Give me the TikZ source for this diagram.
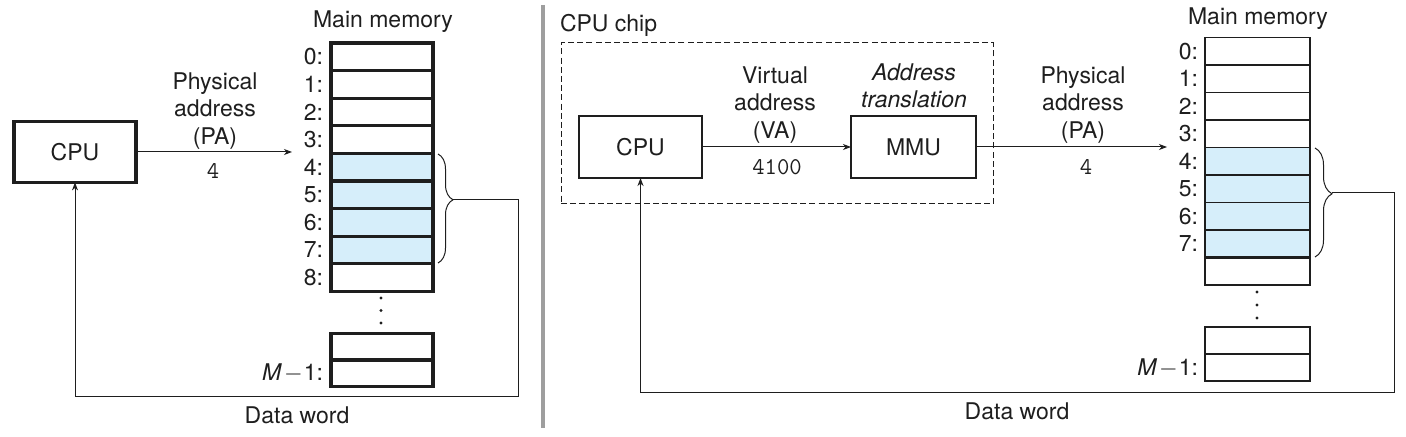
\documentclass[tikz,border=0pt]{standalone}
\usepackage{fontspec}
\setmainfont{TeX Gyre Heros}
\usetikzlibrary{arrows.meta,decorations.pathreplacing}
\definecolor{cellblue}{RGB}{214,238,250}
\definecolor{inkc}{RGB}{30,30,30}
\begin{document}
\begin{tikzpicture}[x=0.5pt,y=-0.5pt,
  txt/.style={inner sep=0pt, outer sep=0pt, text=inkc, font=\fontsize{11.5}{13.6}\selectfont, align=center},
  ttxt/.style={inner sep=0pt, outer sep=0pt, text=inkc, font=\fontsize{12}{14}\selectfont\ttfamily},
  lbl/.style={txt, anchor=east},
  cellL/.style={draw=inkc, line width=1.6pt, minimum width=51pt, minimum height=13.8pt, inner sep=0pt, outer sep=0pt},
  cellLb/.style={cellL, minimum height=13.25pt},
  cellR/.style={draw=inkc, line width=0.6pt, minimum width=52.5pt, minimum height=13.75pt, inner sep=0pt, outer sep=0pt},
  cellRb/.style={cellR, minimum height=13.5pt},
  boxL/.style={txt, draw=inkc, line width=1.65pt, minimum width=61pt, minimum height=30.4pt},
  boxR/.style={txt, draw=inkc, line width=0.6pt, minimum height=31pt},
  chipbox/.style={draw=inkc, line width=0.5pt, dash pattern=on 3pt off 1.6pt, minimum width=216pt, minimum height=80.5pt, inner sep=0pt, outer sep=0pt},
  arr/.style={draw=inkc, line width=0.5pt, -{Stealth[length=4pt,width=3pt,inset=1.2pt]}},
  brc/.style={draw=inkc, line width=0.5pt, decorate, decoration={brace, amplitude=7.5pt, aspect=0.42}},
  dotc/.style={fill=inkc, draw=none}
]
\useasboundingbox (0,0) rectangle (1406,437);

% ---------------- left diagram ----------------
\node[boxL] (cpuL) at (75,152) {CPU};
\node[txt] (paL) at (215,111) {Physical\\address\\(PA)};
\node[ttxt] (paLv) at (213,171) {4};
\node[txt, anchor=base] (mmL) at (383,28) {Main memory};

\foreach \i in {0,...,3,8} {
  \pgfmathsetmacro\cy{56.8+27.6*\i}
  \node[cellL, fill=white] (L\i) at (382,\cy) {};
  \node[lbl] (Ll\i) at (323,\cy) {\i:};
}
\foreach \i in {4,...,7} {
  \pgfmathsetmacro\cy{56.8+27.6*\i}
  \node[cellL, fill=cellblue] (L\i) at (382,\cy) {};
  \node[lbl] (Ll\i) at (323,\cy) {\i:};
}
\node[cellLb, fill=white] (La) at (382,346.75) {};
\node[cellLb, fill=white] (Lb) at (382,373.25) {};
\node[lbl] (Llb) at (323,373.25) {\textit{M}\kern1pt$-$\kern0.5pt1:};
\fill[dotc] (381,298) circle (0.8pt) (381,310.5) circle (0.8pt) (381,323) circle (0.8pt);

\coordinate (lpaEnd) at (292,152);
\draw[arr] (cpuL.east) -- (lpaEnd);

\coordinate (lbA) at (438,154);
\coordinate (lbB) at (438,263);
\coordinate (lbT) at (453,200);
\coordinate (lcorner) at (518,397);
\draw[brc] (lbA) -- (lbB);
\draw[arr] (lbT) -| (lcorner) -| (cpuL.south);
\node[txt] (dwL) at (297,415) {Data word};

% ---------------- separator ----------------
\draw[line width=2pt, draw=black!38] (543,5) -- (543,428);

% ---------------- right diagram ----------------
\node[txt, anchor=base west] (chipLbl) at (560,32) {CPU chip};
\node[chipbox] (chip) at (777,123.5) {};
\node[boxR, minimum width=61.5pt] (cpuR) at (640.5,147) {CPU};
\node[boxR, minimum width=62.5pt] (mmu) at (913.5,147) {MMU};
\node[txt] (vaR) at (775,105) {Virtual\\address\\(VA)};
\node[ttxt] (vaRv) at (777,167) {4100};
\node[txt] (atR) at (914,86) {\itshape Address\\\itshape translation};
\node[txt] (paR) at (1083,105) {Physical\\address\\(PA)};
\node[ttxt] (paRv) at (1086,167) {4};
\node[txt, anchor=base] (mmR) at (1258,25) {Main memory};

\foreach \i in {0,...,3} {
  \pgfmathsetmacro\cy{51.25+27.5*\i}
  \node[cellR, fill=white] (R\i) at (1257.5,\cy) {};
  \node[lbl] (Rl\i) at (1198,\cy) {\i:};
}
\node[cellR, fill=white] (R8) at (1257.5,271.25) {};
\foreach \i in {4,...,7} {
  \pgfmathsetmacro\cy{51.25+27.5*\i}
  \node[cellR, fill=cellblue] (R\i) at (1257.5,\cy) {};
  \node[lbl] (Rl\i) at (1198,\cy) {\i:};
}
\draw[draw=inkc, line width=1.2pt] (R7.south west) -- (R7.south east);
\node[cellRb, fill=white] (Ra) at (1257.5,340.5) {};
\node[cellRb, fill=white] (Rb) at (1257.5,367.5) {};
\node[lbl] (Rlb) at (1198,368) {\textit{M}\kern1pt$-$\kern0.5pt1:};
\fill[dotc] (1257,292) circle (0.8pt) (1257,305) circle (0.8pt) (1257,318) circle (0.8pt);

\draw[arr] (cpuR) -- (mmu);
\coordinate (rpaEnd) at (1167,147);
\draw[arr] (mmu.east) -- (rpaEnd);

\coordinate (rbA) at (1315,148);
\coordinate (rbB) at (1315,257);
\coordinate (rbT) at (1332,193);
\coordinate (rcorner) at (1394,393);
\draw[brc, decoration={amplitude=8.5pt}] (rbA) -- (rbB);
\draw[arr] (rbT) -| (rcorner) -| (cpuR.south);
\node[txt] (dwR) at (1017,411) {Data word};
\end{tikzpicture}
\end{document}
